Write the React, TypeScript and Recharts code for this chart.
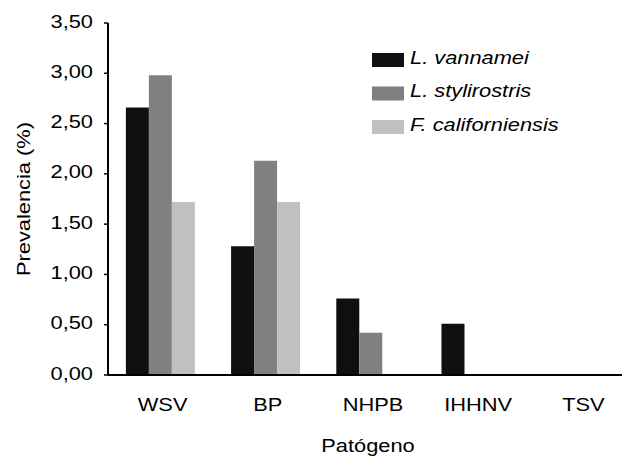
import React from 'react';
import { BarChart, Bar, XAxis, YAxis, Legend } from 'recharts';

const categories = ['WSV', 'BP', 'NHPB', 'IHHNV', 'TSV'];
const seriesNames = ['L. vannamei', 'L. stylirostris', 'F. californiensis'];
const vannamei = [2.66, 1.28, 0.76, 0.51, 0];
const stylirostris = [2.98, 2.13, 0.42, 0, 0];
const californiensis = [1.72, 1.72, 0, 0, 0];
const yTicks = [0, 0.5, 1, 1.5, 2, 2.5, 3, 3.5];

const data = categories.map((c, i) => ({
  name: c,
  vannamei: vannamei[i],
  stylirostris: stylirostris[i],
  californiensis: californiensis[i],
}));

// text in the original looks like Arial stretched sideways a bit
const FONT = '"Liberation Sans", Arial, sans-serif';
const FS = 18.5;
const SX = 1.18;

const fmt = (v: number) => v.toFixed(2).replace('.', ',');

const YTick = ({ x, y, payload }: any) => (
  <text
    transform={`translate(${x},${y + 4.5}) scale(${SX},1)`}
    textAnchor="end"
    fontSize={FS}
    fontFamily={FONT}
    fill="#000"
  >
    {fmt(payload.value)}
  </text>
);

const XTick = ({ x, y, payload }: any) => (
  <text
    transform={`translate(${x + 2},${y + 36}) scale(${SX},1)`}
    textAnchor="middle"
    fontSize={FS}
    fontFamily={FONT}
    fill="#000"
  >
    {payload.value}
  </text>
);

const YLabel = ({ viewBox }: any) => {
  const cy = viewBox.y + viewBox.height / 2;
  return (
    <text
      transform={`translate(30,${cy}) rotate(-90) scale(${SX},1)`}
      textAnchor="middle"
      fontSize={FS}
      fontFamily={FONT}
      fill="#000"
    >
      Prevalencia (%)
    </text>
  );
};

const XLabel = ({ viewBox }: any) => {
  const cx = viewBox.x + viewBox.width / 2 - 3;
  return (
    <text
      transform={`translate(${cx},452) scale(${SX},1)`}
      textAnchor="middle"
      fontSize={FS}
      fontFamily={FONT}
      fill="#000"
    >
      Patógeno
    </text>
  );
};

// legend sorts by name in recharts 3, so put the series order back
const LegendBox = ({ payload }: any) => {
  const items = [...(payload || [])].sort(
    (a: any, b: any) => seriesNames.indexOf(a.value) - seriesNames.indexOf(b.value)
  );
  return (
    <svg width={240} height={110}>
      {items.map((p: any, i: number) => (
        <g key={p.value} transform={`translate(0,${6 + i * 33.5})`}>
          <rect x={0} y={0} width={32} height={14} fill={p.color} />
          <text
            transform={`translate(38,10.8) scale(${SX},1)`}
            fontSize={FS}
            fontFamily={FONT}
            fontStyle="italic"
            fill="#000"
          >
            {p.value}
          </text>
        </g>
      ))}
    </svg>
  );
};

export default function App() {
  return (
    <div
      style={{
        position: 'absolute',
        left: 0,
        top: 0,
        width: 622,
        height: 459,
        overflow: 'hidden',
        background: '#fff',
      }}
    >
      <BarChart
        width={650}
        height={459}
        data={data}
        margin={{ top: 23, right: 16, bottom: 0, left: 0 }}
        barCategoryGap="17%"
        barGap={0}
      >
        <XAxis
          dataKey="name"
          height={84}
          tickLine={false}
          tickSize={0}
          tickMargin={0}
          tick={<XTick />}
          axisLine={{ stroke: '#000', strokeWidth: 2 }}
          label={<XLabel />}
        />
        <YAxis
          width={108}
          domain={[0, 3.5]}
          ticks={yTicks}
          tickSize={4}
          tickMargin={11}
          tick={<YTick />}
          tickLine={{ stroke: '#000', strokeWidth: 1.5 }}
          axisLine={{ stroke: '#000', strokeWidth: 2 }}
          label={<YLabel />}
        />
        <Legend
          layout="horizontal"
          verticalAlign="middle"
          align="center"
          content={<LegendBox />}
          wrapperStyle={{ position: 'absolute', left: 372, top: 47, width: 240, height: 110 }}
        />
        <Bar dataKey="vannamei" name={seriesNames[0]} fill="#0f0f0f" isAnimationActive={false} />
        <Bar dataKey="stylirostris" name={seriesNames[1]} fill="#808080" isAnimationActive={false} />
        <Bar dataKey="californiensis" name={seriesNames[2]} fill="#c0c0c0" isAnimationActive={false} />
      </BarChart>
    </div>
  );
}
